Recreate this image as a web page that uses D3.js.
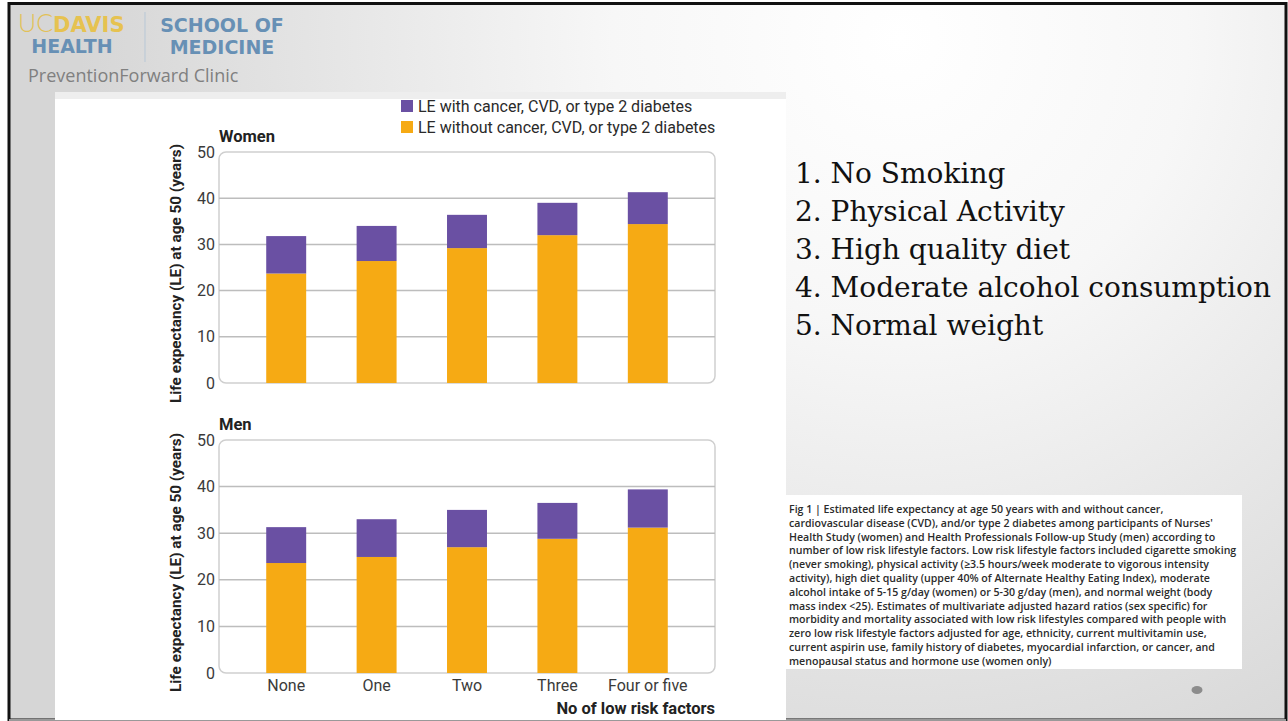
<!DOCTYPE html>
<html lang="en">
<head>
<meta charset="utf-8">
<script src="https://d3js.org/d3.v7.min.js"></script>
<style>
  body { margin: 0; background: #fff; }
  svg { display: block; }
  .tick-lbl { font-family: Roboto, sans-serif; font-size: 16px; fill: #3a3a3a; }
  .panel-title { font-family: Roboto, sans-serif; font-size: 16.5px; font-weight: 700; fill: #222; }
  .y-label { font-family: Roboto, sans-serif; font-size: 15.3px; font-weight: 700; fill: #222; }
  .legend-lbl { font-family: Roboto, sans-serif; font-size: 16px; fill: #2a2a2a; }
  .list-item { font-family: "DejaVu Serif", serif; font-size: 28px; fill: #111; }
  .caption { font-family: "Open Sans", sans-serif; font-size: 10.6px; font-weight: 600; fill: #2b2b2b; }
</style>
</head>
<body>
<script>
  // --- data ---
  var categories = ["None", "One", "Two", "Three", "Four or five"];
  var womenWithout = [23.7, 26.4, 29.2, 32.0, 34.4];
  var womenTotal   = [31.8, 34.0, 36.4, 39.0, 41.3];
  var menWithout   = [23.6, 24.9, 27.0, 28.8, 31.2];
  var menTotal     = [31.3, 33.0, 35.0, 36.5, 39.4];
  var yTicks = [0, 10, 20, 30, 40, 50];
  var seriesNames = ["LE with cancer, CVD, or type 2 diabetes", "LE without cancer, CVD, or type 2 diabetes"];
  var riskFactors = ["No Smoking", "Physical Activity", "High quality diet", "Moderate alcohol consumption", "Normal weight"];
  var captionLines = [
    "Fig 1 | Estimated life expectancy at age 50 years with and without cancer,",
    "cardiovascular disease (CVD), and/or type 2 diabetes among participants of Nurses'",
    "Health Study (women) and Health Professionals Follow-up Study (men) according to",
    "number of low risk lifestyle factors. Low risk lifestyle factors included cigarette smoking",
    "(never smoking), physical activity (\u22653.5 hours/week moderate to vigorous intensity",
    "activity), high diet quality (upper 40% of Alternate Healthy Eating Index), moderate",
    "alcohol intake of 5-15 g/day (women) or 5-30 g/day (men), and normal weight (body",
    "mass index <25). Estimates of multivariate adjusted hazard ratios (sex specific) for",
    "morbidity and mortality associated with low risk lifestyles compared with people with",
    "zero low risk lifestyle factors adjusted for age, ethnicity, current multivitamin use,",
    "current aspirin use, family history of diabetes, myocardial infarction, or cancer, and",
    "menopausal status and hormone use (women only)"
  ];

  var purple = "#6a50a3", orange = "#f6aa14";

  var W = 1288, H = 721;
  var svg = d3.select("body").append("svg").attr("width", W).attr("height", H);

  // slide background
  var defs = svg.append("defs");
  var grad = defs.append("radialGradient").attr("id", "bg")
    .attr("gradientUnits", "userSpaceOnUse")
    .attr("cx", 900).attr("cy", 40).attr("r", 820);
  grad.append("stop").attr("offset", "0").attr("stop-color", "#ffffff");
  grad.append("stop").attr("offset", "0.35").attr("stop-color", "#f7f7f7");
  grad.append("stop").attr("offset", "1").attr("stop-color", "#d6d6d6");

  svg.append("rect").attr("x", 9).attr("y", 3).attr("width", 1277).attr("height", 717)
    .attr("fill", "url(#bg)");
  svg.append("rect").attr("x", 9).attr("y", 3.5).attr("width", 1277).attr("height", 716.5)
    .attr("fill", "none").attr("stroke", "#111").attr("stroke-width", 3);
  svg.append("line").attr("x1", 9).attr("x2", 1286).attr("y1", 720).attr("y2", 720)
    .attr("stroke", "#999").attr("stroke-width", 2);

  // logo
  var logo = svg.append("g").attr("font-family", "'DejaVu Sans', sans-serif").attr("font-weight", 700);
  logo.append("text").attr("x", 18).attr("y", 32).attr("font-size", 21)
    .call(function(t) {
      t.append("tspan").attr("font-weight", 300).attr("font-family", "Lato, sans-serif")
        .attr("fill", "#e2c158").attr("font-size", 25).text("UC");
      t.append("tspan").attr("fill", "#e6c250").text("DAVIS");
    });
  logo.append("text").attr("x", 72).attr("y", 53).attr("text-anchor", "middle")
    .attr("font-size", 19).attr("fill", "#6790b5").text("HEALTH");
  logo.append("line").attr("x1", 145).attr("x2", 145).attr("y1", 12).attr("y2", 62)
    .attr("stroke", "#b7c7d6").attr("stroke-width", 1);
  logo.append("text").attr("x", 222).attr("y", 32).attr("text-anchor", "middle")
    .attr("font-size", 19).attr("fill", "#6790b5").text("SCHOOL OF");
  logo.append("text").attr("x", 222).attr("y", 54).attr("text-anchor", "middle")
    .attr("font-size", 19).attr("fill", "#6790b5").text("MEDICINE");
  svg.append("text").attr("x", 28).attr("y", 82)
    .attr("font-family", "'Open Sans', sans-serif").attr("font-size", 18).attr("fill", "#808080")
    .text("PreventionForward Clinic");

  // figure image area
  svg.append("rect").attr("x", 55).attr("y", 92).attr("width", 731).attr("height", 628).attr("fill", "#fff");
  svg.append("rect").attr("x", 55).attr("y", 92).attr("width", 731).attr("height", 7).attr("fill", "#eeeeee");

  // shared x scale
  var box = { left: 219, right: 715 };
  var x = d3.scaleBand().domain(categories).range([241, 693])
    .paddingInner(0.558).paddingOuter(0.279);

  function panel(title, top, bottom, without, total, showX) {
    var y = d3.scaleLinear().domain([0, 50]).range([bottom, top]);
    var g = svg.append("g");

    g.append("rect").attr("x", box.left).attr("y", y(50))
      .attr("width", box.right - box.left).attr("height", y(0) - y(50))
      .attr("rx", 7).attr("fill", "#fff").attr("stroke", "#cfcfcf").attr("stroke-width", 1.5);

    g.selectAll("line.grid").data(yTicks.slice(1, -1)).enter().append("line")
      .attr("class", "grid")
      .attr("x1", box.left).attr("x2", box.right)
      .attr("y1", function(d) { return y(d); }).attr("y2", function(d) { return y(d); })
      .attr("stroke", "#bdbdbd").attr("stroke-width", 1.5);

    var yAxis = d3.axisLeft(y).tickValues(yTicks).tickSize(0).tickPadding(0);
    var ya = g.append("g").attr("transform", "translate(" + (box.left - 4) + ",0)").call(yAxis);
    ya.select(".domain").remove();
    ya.selectAll("text").attr("class", "tick-lbl").attr("font-family", null).attr("font-size", null)
      .attr("fill", null);

    var data = categories.map(function(c, i) { return { cat: c, lo: without[i], hi: total[i] }; });

    g.selectAll("rect.without").data(data).enter().append("rect")
      .attr("x", function(d) { return x(d.cat); }).attr("width", x.bandwidth())
      .attr("y", function(d) { return y(d.lo); })
      .attr("height", function(d) { return y(0) - y(d.lo); })
      .attr("fill", orange);
    g.selectAll("rect.with").data(data).enter().append("rect")
      .attr("x", function(d) { return x(d.cat); }).attr("width", x.bandwidth())
      .attr("y", function(d) { return y(d.hi); })
      .attr("height", function(d) { return y(d.lo) - y(d.hi); })
      .attr("fill", purple);

    g.append("text").attr("class", "panel-title").attr("x", box.left).attr("y", y(50) - 10).text(title);

    g.append("text").attr("class", "y-label")
      .attr("transform", "translate(181," + ((y(0) + y(50)) / 2 + 6) + ") rotate(-90)")
      .attr("text-anchor", "middle")
      .text("Life expectancy (LE) at age 50 (years)");

    if (showX) {
      var xAxis = d3.axisBottom(x).tickSize(0).tickPadding(0);
      var xa = g.append("g").attr("transform", "translate(0," + (y(0) + 7) + ")").call(xAxis);
      xa.select(".domain").remove();
      xa.selectAll("text").attr("class", "tick-lbl").attr("font-family", null).attr("font-size", null)
        .attr("fill", null);
      g.append("text").attr("class", "panel-title").attr("font-size", 17.5)
        .attr("x", box.right).attr("y", 714).attr("text-anchor", "end")
        .text("No of low risk factors");
    }
  }

  panel("Women", 152, 383, womenWithout, womenTotal, false);
  panel("Men", 440, 673, menWithout, menTotal, true);

  // legend
  var legend = svg.append("g").attr("transform", "translate(401,100)");
  legend.selectAll("rect").data(seriesNames).enter().append("rect")
    .attr("x", 0).attr("y", function(d, i) { return i * 21; })
    .attr("width", 12).attr("height", 12)
    .attr("fill", function(d, i) { return i === 0 ? purple : orange; });
  legend.selectAll("text").data(seriesNames).enter().append("text")
    .attr("class", "legend-lbl")
    .attr("x", 17).attr("y", function(d, i) { return i * 21 + 11.5; })
    .text(function(d) { return d; });

  // risk factor list
  svg.append("g").selectAll("text").data(riskFactors).enter().append("text")
    .attr("class", "list-item")
    .attr("x", 795).attr("y", function(d, i) { return 183 + i * 38; })
    .text(function(d, i) { return (i + 1) + ".\u00a0" + d; });

  // caption box
  svg.append("rect").attr("x", 783).attr("y", 495).attr("width", 459).attr("height", 174).attr("fill", "#fff");
  svg.append("g").selectAll("text").data(captionLines).enter().append("text")
    .attr("class", "caption")
    .attr("x", 789).attr("y", function(d, i) { return 513 + i * 13.8; })
    .text(function(d) { return d; });

  svg.append("ellipse").attr("cx", 1197).attr("cy", 690).attr("rx", 5.5).attr("ry", 4)
    .attr("fill", "#8c8c8c");
</script>
</body>
</html>
